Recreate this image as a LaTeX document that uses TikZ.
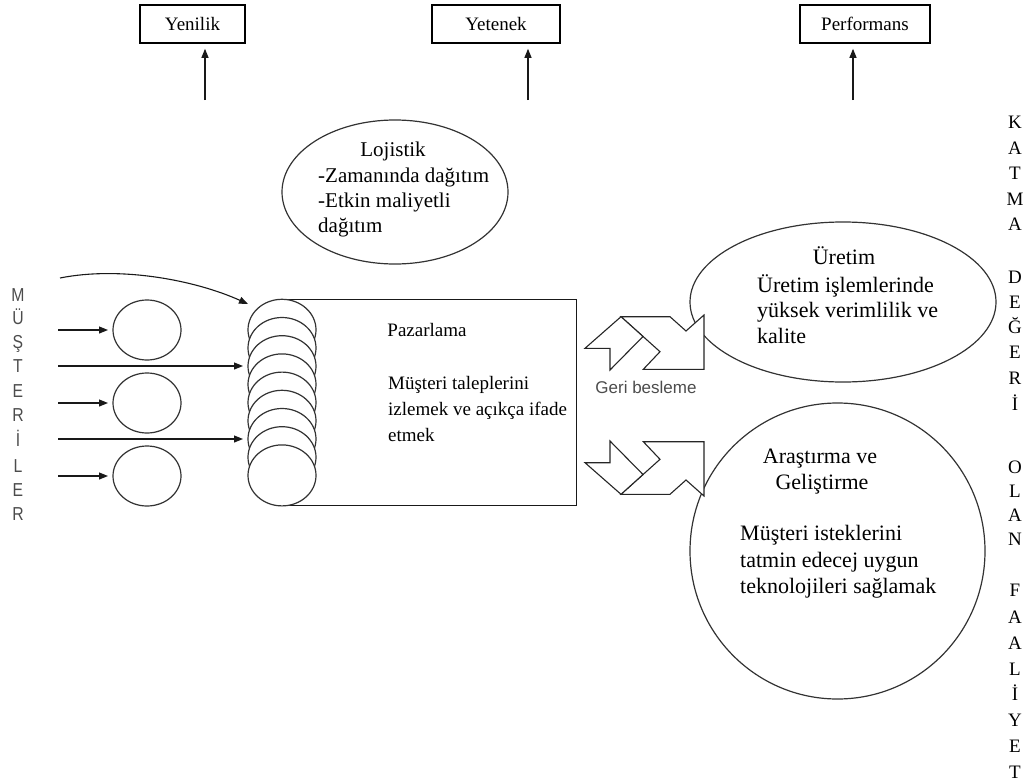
\documentclass[tikz,border=0pt]{standalone}
\usepackage{fontspec}
\setmainfont{Liberation Serif}
\newfontfamily\sansf{Liberation Sans}
\usetikzlibrary{arrows.meta,shapes.geometric}
\begin{document}
\begin{tikzpicture}[x=1pt,y=-1pt,
  line join=miter,
  arr/.style={-{Triangle[length=9pt,width=7pt]}, line width=1.1pt, draw=black!90},
  topbox/.style={draw, line width=1.6pt, minimum height=38pt, inner sep=0pt, font=\fontsize{19}{22}\selectfont},
  ell/.style={ellipse, draw=black!80, line width=1.2pt, inner sep=0pt, outer sep=0pt, fill=white},
  txt/.style={inner sep=0pt, text height=15pt, text depth=5pt, font=\fontsize{22}{26}\selectfont},
  txtl/.style={inner sep=0pt, text height=14pt, text depth=5pt, font=\fontsize{21}{25}\selectfont},
  txtp/.style={inner sep=0pt, text height=13pt, text depth=4pt, font=\fontsize{19}{24}\selectfont},
  vlet/.style={inner sep=0pt, text height=12.6pt, text depth=0pt, font=\fontsize{19}{22}\selectfont},
  slet/.style={inner sep=0pt, text height=12.9pt, text depth=0pt, text=black!70, font=\sansf\fontsize{15}{18}\selectfont},
  shp/.style={draw=black!85, line width=1.1pt, fill=white}
]
\useasboundingbox (0,0) rectangle (1033,784);

% top boxes
\node[topbox, minimum width=105pt] (yen) at (192.5,24) {Yenilik};
\node[topbox, minimum width=128pt] (yet) at (496,24) {Yetenek};
\node[topbox, minimum width=130pt] (per) at (865,24) {Performans};
\coordinate (ya) at (205,100);
\coordinate (yb) at (528,100);
\coordinate (yc) at (853,100);
\draw[arr, shorten >=5pt] (ya) -- (ya |- yen.south);
\draw[arr, shorten >=5pt] (yb) -- (yb |- yet.south);
\draw[arr, shorten >=5pt] (yc) -- (yc |- per.south);

% Lojistik
\node[ell, minimum width=226pt, minimum height=144pt] (loj) at (395,192) {};
\node[txtl] (lojt) at (393,152) {Lojistik};
\node[txtl, anchor=west] (loj1) at (318,178) {-Zamanında dağıtım};
\node[txtl, anchor=west] (loj2) at (318,203) {-Etkin maliyetli};
\node[txtl, anchor=west] (loj3) at (318,228) {dağıtım};

% MÜŞTERİLER
\foreach \l/\yy [count=\n] in {M/295,Ü/318,Ş/342,T/366,E/391,R/415,İ/440,L/466,E/490,R/514}
  \node[slet] (ml\n) at (18,\yy) {\scalebox{1.05}[1.25]{\l}};

% small circles
\node[ell, minimum width=68pt, minimum height=60pt] (c1) at (147,330) {};
\node[ell, minimum width=68pt, minimum height=60pt] (c2) at (147,403) {};
\node[ell, minimum width=68pt, minimum height=60pt] (c3) at (147,476) {};
\coordinate (s1) at (58,330);
\coordinate (s2) at (58,403);
\coordinate (s3) at (58,476);
\draw[arr, shorten >=5pt] (s1) -- (c1.west);
\draw[arr, shorten >=5pt] (s2) -- (c2.west);
\draw[arr, shorten >=5pt] (s3) -- (c3.west);

% Pazarlama rectangle
\node[draw=black!90, line width=1.2pt, minimum width=294pt, minimum height=206pt, anchor=north west, inner sep=0pt] (paz) at (282,299) {};
\node[txtp] (pazt) at (427,332) {Pazarlama};
\node[txtp, anchor=west] (paz1) at (388,385) {Müşteri taleplerini};
\node[txtp, anchor=west] (paz2) at (388,411) {izlemek ve açıkça ifade};
\node[txtp, anchor=west] (paz3) at (388,437) {etmek};

% stacked circles
\foreach \i in {0,...,8}
  \node[ell, minimum width=68pt, minimum height=61pt] (st\i) at (282,{329.8+18.2*\i}) {};

% long arrows and curved arrow
\coordinate (l1) at (58,366);
\coordinate (l2) at (58,439);
\coordinate (le1) at (243,366);
\coordinate (le2) at (243,439);
\draw[arr] (l1) -- (le1);
\draw[arr] (l2) -- (le2);
\coordinate (cv) at (60,278);
\coordinate (cve) at (248,304);
\draw[arr] (cv) .. controls (120,266) and (195,280) .. (cve);

% Üretim
\node[ell, minimum width=306pt, minimum height=160pt] (ure) at (843,302) {};
\node[txt] (uret) at (844,259) {Üretim};
\node[txt, anchor=west] (ure1) at (757,287) {Üretim işlemlerinde};
\node[txt, anchor=west] (ure2) at (757,312) {yüksek verimlilik ve};
\node[txt, anchor=west] (ure3) at (757,338) {kalite};

% Araştırma ve Geliştirme
\node[ell, minimum width=295pt, minimum height=296pt] (arg) at (837.5,551) {};
\node[txt] (argt1) at (820,458) {Araştırma ve};
\node[txt] (argt2) at (822,484) {Geliştirme};
\node[txt, anchor=west] (arg1) at (740,535) {Müşteri isteklerini};
\node[txt, anchor=west] (arg2) at (740,562) {tatmin edecej uygun};
\node[txt, anchor=west] (arg3) at (740,588) {teknolojileri sağlamak};

% feedback arrows
\draw[shp] (621,316.7) -- (670,316.7) -- (686,331) -- (704,315) -- (704,369.3) -- (643.3,369.3) -- (660,351.7) -- cycle;
\draw[shp] (585,348.3) -- (621,316.7) -- (643,336.5) -- (610,370) -- (610,348.3) -- cycle;
\draw[shp] (621,494.3) -- (670,494.3) -- (686,480) -- (704,496) -- (704,441.7) -- (643.3,441.7) -- (660,459.3) -- cycle;
\draw[shp] (585,462.7) -- (621,494.3) -- (643,474.5) -- (610,441) -- (610,462.7) -- cycle;
\node[inner sep=0pt, text=black!70, font=\sansf\fontsize{17}{20}\selectfont] (geri) at (646,387) {Geri besleme};

% KATMA DEĞERİ OLAN FAALİYET
\foreach \l/\yy [count=\n] in {K/122,A/148,T/173,M/199,A/224,D/277,E/302,Ğ/327,E/352,R/378,İ/404,O/467,L/491,A/515,N/539,F/590,A/617,A/643,L/669,İ/694,Y/720,E/746,T/772}
  \node[vlet] (rl\n) at (1015,\yy) {\l};
\end{tikzpicture}
\end{document}
